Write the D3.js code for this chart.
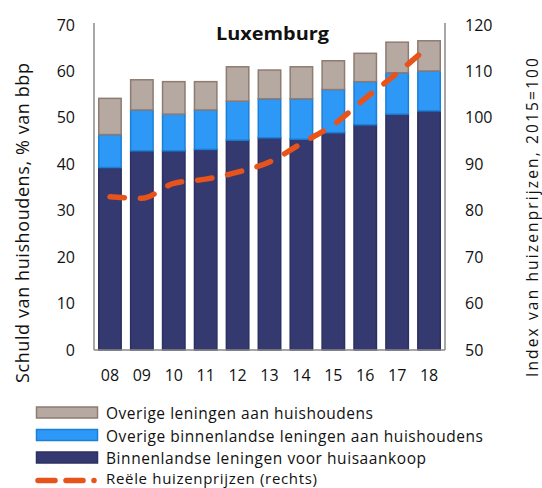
<!DOCTYPE html>
<html>
<head>
<meta charset="utf-8">
<script src="https://cdn.jsdelivr.net/npm/d3@7"></script>
<style>
  html, body { margin: 0; padding: 0; background: #fff; }
  svg text { font-family: "Open Sans", Lato, sans-serif; fill: #111; }
</style>
</head>
<body>
<svg id="chart" width="542" height="488"></svg>
<script>
// Household debt in Luxembourg (% of GDP) and real house price index (2015=100)
const years = ["08", "09", "10", "11", "12", "13", "14", "15", "16", "17", "18"];
const housePurchase = [39.3, 42.9, 42.9, 43.2, 45.2, 45.7, 45.4, 46.8, 48.5, 50.8, 51.5];
const otherDomestic = [7.1, 8.8, 7.9, 8.5, 8.4, 8.4, 8.7, 9.3, 9.3, 8.9, 8.6];
const otherLoans = [7.8, 6.5, 7.0, 6.1, 7.4, 6.2, 6.9, 6.2, 6.1, 6.6, 6.5];
const housePrices = [83.0, 82.7, 85.9, 86.8, 88.3, 90.5, 94.5, 98.5, 104.2, 109.6, 115.5];
const leftTicks = [0, 10, 20, 30, 40, 50, 60, 70];
const rightTicks = [50, 60, 70, 80, 90, 100, 110, 120];

const seriesNames = [
  "Binnenlandse leningen voor huisaankoop",
  "Overige binnenlandse leningen aan huishoudens",
  "Overige leningen aan huishoudens"
];
const seriesValues = [housePurchase, otherDomestic, otherLoans];
const fills = ["#343a70", "#2e98f6", "#b6a9a1"];
const strokes = ["#2b3060", "#1c7fd6", "#8e7b72"];
const lineColor = "#e8521b";

const svg = d3.select("#chart");
const plotLeft = 94, plotRight = 445, plotTop = 25, plotBottom = 350;
const tickFont = "'Open Sans', Lato, sans-serif";

const x = d3.scaleBand().domain(years).range([plotLeft, plotRight]).paddingInner(0.25).paddingOuter(0.125);
const yL = d3.scaleLinear().domain([0, 70]).range([plotBottom, plotTop]);
const yR = d3.scaleLinear().domain([50, 120]).range([plotBottom, plotTop]);

// stacked bars
const rows = years.map((yr, i) => {
  const r = { year: yr };
  seriesValues.forEach((s, k) => r["s" + k] = s[i]);
  return r;
});
const stack = d3.stack().keys(["s0", "s1", "s2"])(rows);

svg.append("g").selectAll("g").data(stack).join("g")
  .attr("fill", (d, i) => fills[i])
  .attr("stroke", (d, i) => strokes[i])
  .attr("stroke-width", 1.5)
  .selectAll("rect").data(d => d).join("rect")
  .attr("x", d => x(d.data.year) + 0.75)
  .attr("width", x.bandwidth() - 1.5)
  .attr("y", d => yL(d[1]))
  .attr("height", d => yL(d[0]) - yL(d[1]));

// axis lines
const axisColor = "#8a8a8a";
svg.append("line").attr("x1", plotLeft).attr("x2", plotLeft).attr("y1", plotTop - 2).attr("y2", plotBottom)
  .attr("stroke", axisColor).attr("stroke-width", 1.5);
svg.append("line").attr("x1", plotRight).attr("x2", plotRight).attr("y1", plotTop - 2).attr("y2", plotBottom)
  .attr("stroke", axisColor).attr("stroke-width", 1.5);
svg.append("line").attr("x1", plotLeft).attr("x2", plotRight).attr("y1", plotBottom).attr("y2", plotBottom)
  .attr("stroke", axisColor).attr("stroke-width", 1.5);

// left axis labels
const gl = svg.append("g").attr("transform", `translate(${plotLeft},0)`)
  .call(d3.axisLeft(yL).tickValues(leftTicks).tickSize(0).tickPadding(19));
gl.select(".domain").remove();
gl.selectAll("text").attr("font-size", 16).attr("font-family", tickFont).attr("fill", "#111");

// right axis labels
const gr = svg.append("g").attr("transform", `translate(${plotRight},0)`)
  .call(d3.axisRight(yR).tickValues(rightTicks).tickSize(0).tickPadding(20));
gr.select(".domain").remove();
gr.selectAll("text").attr("font-size", 16).attr("font-family", tickFont).attr("fill", "#111");

// bottom axis labels
const gb = svg.append("g").attr("transform", `translate(0,${plotBottom})`)
  .call(d3.axisBottom(x).tickSize(0).tickPadding(20));
gb.select(".domain").remove();
gb.selectAll("text").attr("font-size", 16).attr("font-family", tickFont).attr("fill", "#111");

// house price line
const line = d3.line()
  .x((d, i) => x(years[i]) + x.bandwidth() / 2)
  .y(d => yR(d))
  .curve(d3.curveMonotoneX);
svg.append("path").datum(housePrices)
  .attr("d", line)
  .attr("fill", "none")
  .attr("stroke", lineColor)
  .attr("stroke-width", 5.5)
  .attr("stroke-linecap", "round")
  .attr("stroke-dasharray", "14.5 16");

// title
svg.append("text").attr("x", 216).attr("y", 40)
  .attr("font-size", 18).attr("font-weight", "bold")
  .attr("textLength", 113).attr("lengthAdjust", "spacingAndGlyphs").text("Luxemburg");

// axis titles
svg.append("text").attr("transform", "translate(29,383) rotate(-90)")
  .attr("font-family", "'Liberation Sans', Arial, sans-serif").attr("font-size", 18)
  .attr("textLength", 320).attr("lengthAdjust", "spacing")
  .text("Schuld van huishoudens, % van bbp");
svg.append("text").attr("transform", "translate(538,377) rotate(-90)")
  .attr("font-size", 15.5)
  .attr("textLength", 319).attr("lengthAdjust", "spacing")
  .text("Index van huizenprijzen, 2015=100");

// legend
const legend = svg.append("g");
const legendItems = [
  { label: seriesNames[2], k: 2, w: 267 },
  { label: seriesNames[1], k: 1, w: 377 },
  { label: seriesNames[0], k: 0, w: 320 }
];
legendItems.forEach((it, i) => {
  const yy = 407 + i * 22.5;
  legend.append("rect").attr("x", 36.5).attr("y", yy).attr("width", 61).attr("height", 11)
    .attr("fill", fills[it.k]).attr("stroke", strokes[it.k]).attr("stroke-width", 1.5);
  legend.append("text").attr("x", 106).attr("y", yy + 12).attr("font-size", 15.5)
    .attr("textLength", it.w).attr("lengthAdjust", "spacing").text(it.label);
});
const ly = 480.5;
legend.append("line").attr("x1", 38).attr("x2", 96).attr("y1", ly).attr("y2", ly)
  .attr("stroke", lineColor).attr("stroke-width", 5.5).attr("stroke-linecap", "round")
  .attr("stroke-dasharray", "17 11 17 11 0 30");
legend.append("text").attr("x", 106).attr("y", 483.5).attr("font-size", 15)
  .attr("textLength", 211).attr("lengthAdjust", "spacing").text("Reële huizenprijzen (rechts)");
</script>
</body>
</html>
